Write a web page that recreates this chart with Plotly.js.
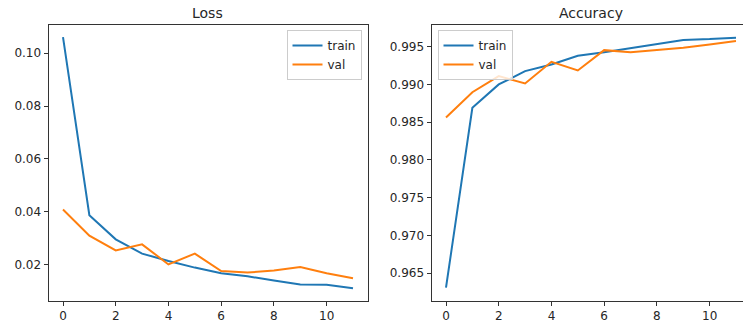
<!DOCTYPE html>
<html>
<head>
<meta charset="utf-8">
<script src="https://cdn.plot.ly/plotly-3.0.1.min.js"></script>
<style>html,body{margin:0;padding:0;background:#fff;}#chart{width:743px;height:327px;}</style>
</head>
<body>
<div id="chart"></div>
<script>
const epochs = [0,1,2,3,4,5,6,7,8,9,10,11];
const lossTrain = [0.1061,0.0387,0.0296,0.0242,0.0214,0.0189,0.0168,0.0156,0.0140,0.0125,0.0124,0.0111];
const lossVal   = [0.0409,0.0310,0.0254,0.0277,0.0201,0.0242,0.0176,0.0170,0.0178,0.0191,0.0168,0.0149];
const accTrain  = [0.9631,0.9869,0.9900,0.99176,0.99265,0.9938,0.99425,0.99478,0.99536,0.99589,0.9960,0.99619];
const accVal    = [0.98562,0.98897,0.9911,0.99013,0.9930,0.99185,0.99454,0.99427,0.99456,0.99487,0.9953,0.99576];
const seriesNames = ['train','val'];
const titles = ['Loss','Accuracy'];

const W = 743, H = 327;
const BLUE = '#1f77b4', ORANGE = '#ff7f0e';
const font = {family:'DejaVu Sans, sans-serif', size:12, color:'#262626'};

const traces = [
  {x:epochs, y:lossTrain, name:seriesNames[0], mode:'lines', line:{color:BLUE,width:2}, xaxis:'x', yaxis:'y', legend:'legend'},
  {x:epochs, y:lossVal, name:seriesNames[1], mode:'lines', line:{color:ORANGE,width:2}, xaxis:'x', yaxis:'y', legend:'legend'},
  {x:epochs, y:accTrain, name:seriesNames[0], mode:'lines', line:{color:BLUE,width:2}, xaxis:'x2', yaxis:'y2', legend:'legend2'},
  {x:epochs, y:accVal, name:seriesNames[1], mode:'lines', line:{color:ORANGE,width:2}, xaxis:'x2', yaxis:'y2', legend:'legend2'}
];

const L1 = 48.5, R1 = 367.5, L2 = 431.5;
const pxPerUnit = (R1 - L1) / 12.1;
const yTop = 25, yBot = 301;
const ydom = [1 - yBot/H, 1 - yTop/H];

const axBase = {
  showgrid:false, zeroline:false, showline:true, linecolor:'#333', linewidth:1,
  ticks:'outside', ticklen:4, tickwidth:1, tickcolor:'#333', tickfont:font, automargin:false
};

const legendTop = 1 - 30/H;

const layout = {
  width:W, height:H,
  margin:{l:0,r:0,t:0,b:0},
  paper_bgcolor:'#fff', plot_bgcolor:'#fff',
  font:font,
  xaxis: Object.assign({}, axBase, {domain:[L1/W, R1/W], range:[-0.55, 11.55], dtick:2, tick0:0, mirror:true, anchor:'y'}),
  yaxis: Object.assign({}, axBase, {domain:ydom, range:[0.00626, 0.1107], dtick:0.02, tick0:0, tickformat:'.2f', mirror:true, anchor:'x'}),
  xaxis2: Object.assign({}, axBase, {domain:[L2/W, 1], range:[-0.55, -0.55 + (W - L2)/pxPerUnit], dtick:2, tick0:0, mirror:true, anchor:'y2'}),
  yaxis2: Object.assign({}, axBase, {domain:ydom, range:[0.96133, 0.99787], dtick:0.005, tick0:0, tickformat:'.3f', mirror:false, anchor:'x2'}),
  showlegend:true,
  legend:{x:361.5/W, y:legendTop, xanchor:'right', yanchor:'top', bgcolor:'rgba(255,255,255,0.8)', bordercolor:'#cccccc', borderwidth:1, font:font},
  legend2:{x:437.5/W, y:legendTop, xanchor:'left', yanchor:'top', bgcolor:'rgba(255,255,255,0.8)', bordercolor:'#cccccc', borderwidth:1, font:font},
  annotations:[
    {text:titles[0], xref:'paper', yref:'paper', x:(L1+R1)/2/W, y:1-13/H, xanchor:'center', yanchor:'middle', showarrow:false, font:{family:font.family, size:14, color:'#262626'}},
    {text:titles[1], xref:'paper', yref:'paper', x:(L2+L2+(R1-L1))/2/W, y:1-13/H, xanchor:'center', yanchor:'middle', showarrow:false, font:{family:font.family, size:14, color:'#262626'}}
  ]
};

Plotly.newPlot('chart', traces, layout, {staticPlot:true, displayModeBar:false});
</script>
</body>
</html>
